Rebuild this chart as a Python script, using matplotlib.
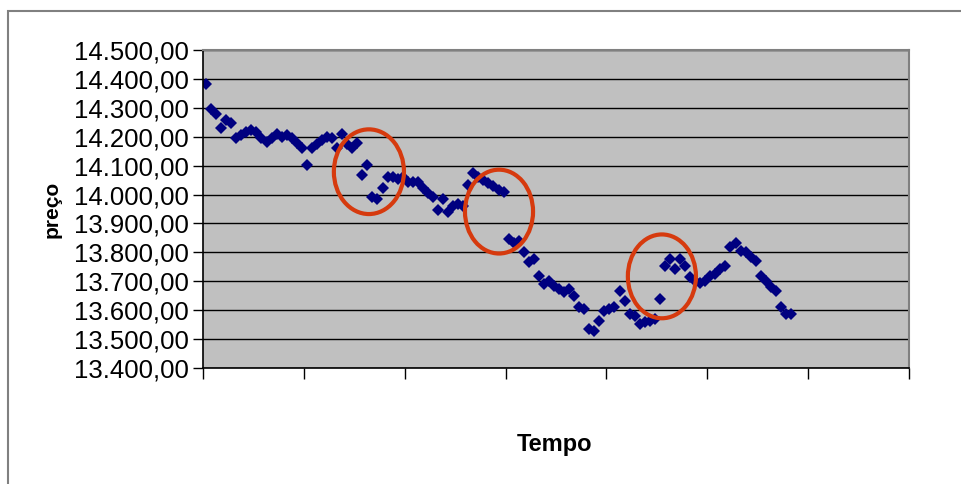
import matplotlib.pyplot as plt
import numpy as np
from matplotlib.patches import Ellipse, Rectangle
from matplotlib.ticker import FuncFormatter, MultipleLocator

# price series, one point per time step
precos = [
    14383, 14297, 14279, 14231, 14259, 14248, 14197, 14207, 14217, 14224,
    14217, 14197, 14183, 14197, 14210, 14200, 14207, 14197, 14179, 14160,
    14103, 14162, 14176, 14190, 14200, 14197, 14162, 14210, 14175, 14162,
    14179, 14069, 14103, 13993, 13986, 14024, 14059, 14062, 14055, 14060,
    14045, 14045, 14045, 14024, 14007, 13990, 13948, 13983, 13938, 13959,
    13966, 13960, 14034, 14076, 14062, 14052, 14040, 14028, 14017, 14010,
    13845, 13834, 13838, 13800, 13766, 13776, 13717, 13690, 13700, 13683,
    13672, 13662, 13672, 13648, 13610, 13603, 13534, 13528, 13562, 13597,
    13603, 13610, 13666, 13631, 13586, 13579, 13552, 13559, 13562, 13569,
    13638, 13752, 13776, 13741, 13776, 13752, 13714, 13700, 13695, 13700,
    13717, 13724, 13741, 13752, 13817, 13834, 13803, 13800, 13783, 13769,
    13717, 13700, 13679, 13666, 13610, 13586, 13586,
]
tempo = list(range(1, len(precos) + 1))

# highlighted regions: (centre x, centre y, width, height) in data units
destaques = [
    (33.3, 14079, 13.9, 293),
    (59.1, 13941, 13.5, 290),
    (91.4, 13717, 13.5, 290),
]


def fmt_br(v, _pos):
    s = f"{v:,.2f}"
    return s.replace(",", "X").replace(".", ",").replace("X", ".")


fig = plt.figure(figsize=(9.62, 4.84), dpi=100)
fig.patches.append(Rectangle((8 / 962, -0.1), 1.2, 1.1 - 11 / 484,
                             transform=fig.transFigure, fill=False,
                             edgecolor="#808080", linewidth=1.5))

ax = fig.add_axes([203 / 962, 1 - 368 / 484, 706 / 962, 318 / 484])
ax.set_facecolor("#C0C0C0")
ax.set_xlim(0.4, 140.4)
ax.set_ylim(13400, 14500)
ax.yaxis.set_major_locator(MultipleLocator(100))
ax.set_xticks(np.arange(0.4, 141, 20))
ax.yaxis.set_major_formatter(FuncFormatter(fmt_br))
ax.set_xticklabels([])
ax.grid(axis="y", color="#000000", linewidth=1.0)
ax.set_axisbelow(True)

ax.plot(tempo, precos, linestyle="none", marker="D", markersize=6.5,
        color="#000080", markeredgewidth=0)

for cx, cy, w, h in destaques:
    ax.add_patch(Ellipse((cx, cy), w, h, fill=False, edgecolor="#D63A0E",
                         linewidth=3.0, zorder=5))

for s in ["top", "right"]:
    ax.spines[s].set_color("#808080")
    ax.spines[s].set_linewidth(1.5)
for s in ["left", "bottom"]:
    ax.spines[s].set_color("#000000")
    ax.spines[s].set_linewidth(1.2)

ax.tick_params(axis="y", length=7, width=1, labelsize=18.5, pad=3)
ax.tick_params(axis="x", length=8, width=1)
for lab in ax.get_yticklabels():
    lab.set_fontfamily("Liberation Sans")

ax.set_ylabel("preço", fontsize=15, fontweight="bold",
              fontfamily="Liberation Sans")
ax.yaxis.set_label_coords(-0.2, 0.5)
fig.text(555 / 962, 1 - 445 / 484, "Tempo", fontsize=17, fontweight="bold",
         fontfamily="Liberation Sans", ha="center", va="center")

fig.savefig("out.png", dpi=100)
